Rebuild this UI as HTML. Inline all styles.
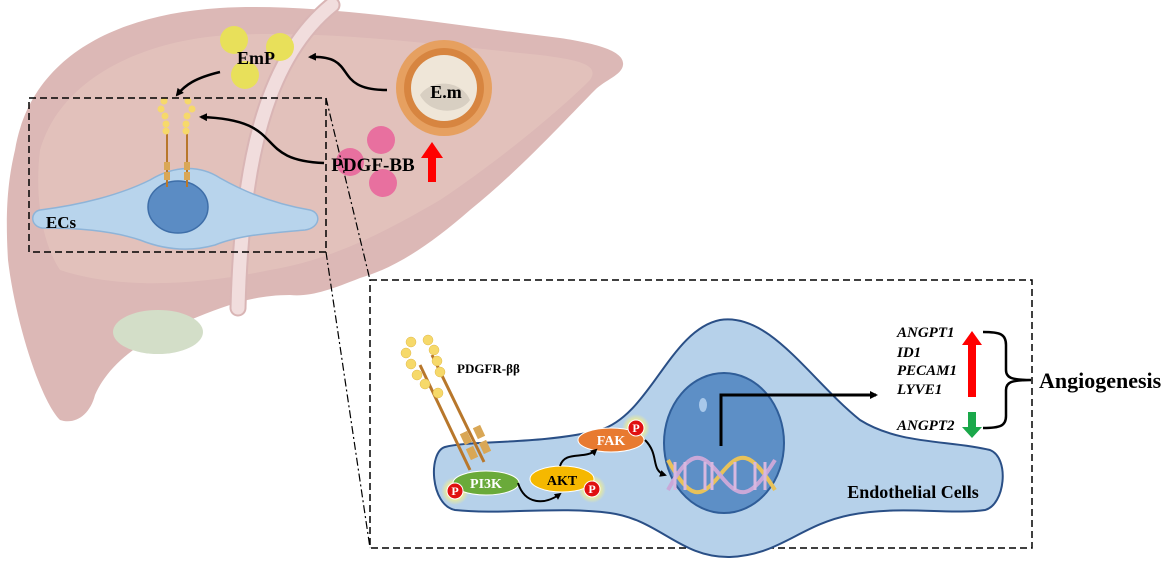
<!DOCTYPE html>
<html><head><meta charset="utf-8"><style>
html,body{margin:0;padding:0;background:#fff}
svg{display:block}
text{font-family:"Liberation Serif",serif;font-weight:bold}
</style></head><body>
<svg width="1169" height="564" viewBox="0 0 1169 564" xmlns="http://www.w3.org/2000/svg">
<defs>
<marker id="ah" markerWidth="8" markerHeight="8" refX="6" refY="4" orient="auto" markerUnits="userSpaceOnUse"><path d="M0,0 L8,4 L0,8 z" fill="#000"/></marker>
<marker id="ahs" markerWidth="7" markerHeight="7" refX="5" refY="3.5" orient="auto" markerUnits="userSpaceOnUse"><path d="M0,0 L7,3.5 L0,7 z" fill="#000"/></marker>
<radialGradient id="glow"><stop offset="0.5" stop-color="#f4f08a"/><stop offset="1" stop-color="#f4f08a" stop-opacity="0"/></radialGradient>
</defs>
<!-- liver -->
<path d="M15,150 C30,60 110,15 220,8 C320,2 450,25 560,38 C600,44 625,52 623,65 C622,75 605,80 595,90 C570,115 520,170 470,210 C430,245 395,268 360,278 C330,290 310,297 290,295 C250,295 220,308 190,320 C150,335 110,360 95,395 C90,415 75,425 60,420 C40,400 15,320 8,260 C5,210 8,180 15,150 Z" fill="#dcb8b6"/>
<path d="M40,150 C60,80 140,40 230,35 C330,30 440,45 540,55 C580,60 600,65 590,80 C560,110 500,160 440,200 C380,235 330,260 270,270 C200,285 120,290 60,270 C40,240 35,190 40,150 Z" fill="#e4c3bd" opacity="0.8"/>
<ellipse cx="158" cy="332" rx="45" ry="22" fill="#d3dec8"/>
<path d="M332,5 C270,55 242,150 238,308" fill="none" stroke="#d9b5b5" stroke-width="17" stroke-linecap="round"/>
<path d="M332,5 C270,55 242,150 238,308" fill="none" stroke="#f1dddd" stroke-width="13" stroke-linecap="round"/>
<!-- EmP -->
<circle cx="234" cy="40" r="14" fill="#e8e05a"/>
<circle cx="280" cy="47" r="14" fill="#e8e05a"/>
<circle cx="245" cy="75" r="14" fill="#e8e05a"/>
<text x="256" y="64" font-size="18" text-anchor="middle">EmP</text>
<!-- E.m -->
<circle cx="444" cy="88" r="48" fill="#e6a060"/>
<circle cx="444" cy="88" r="40" fill="#d78540"/>
<circle cx="444" cy="88" r="33" fill="#efe6d8"/>
<path d="M420,95 C430,80 460,78 470,100 C460,115 430,115 420,95Z" fill="#d8cfc2"/>
<text x="446" y="98" font-size="18" text-anchor="middle">E.m</text>
<!-- PDGF-BB -->
<circle cx="381" cy="140" r="14" fill="#e8709f"/>
<circle cx="350" cy="162" r="14" fill="#e8709f"/>
<circle cx="383" cy="183" r="14" fill="#e8709f"/>
<text x="373" y="171" font-size="19" text-anchor="middle">PDGF-BB</text>
<path d="M428,182 L428,158 L421,158 L432,142 L443,158 L436,158 L436,182 Z" fill="#f00"/>
<!-- arrows -->
<path d="M387,90 C330,90 360,55 310,57" fill="none" stroke="#000" stroke-width="2.5" marker-end="url(#ah)"/>
<path d="M220,72 C195,78 185,85 177,95" fill="none" stroke="#000" stroke-width="2.5" marker-end="url(#ah)"/>
<path d="M324,163 C250,160 290,120 201,117" fill="none" stroke="#000" stroke-width="2.5" marker-end="url(#ah)"/>
<!-- small cell -->
<path d="M40,210 C80,205 120,195 150,180 C175,165 200,165 220,178 C250,195 280,205 310,210 C322,213 320,228 305,230 C270,233 240,235 215,245 C190,252 165,250 140,240 C110,230 75,228 42,228 C30,226 30,212 40,210 Z" fill="#b8d4ec" stroke="#8eb4d8" stroke-width="1.5"/>
<ellipse cx="178" cy="207" rx="30" ry="26" fill="#5b8cc4" stroke="#3e6ea8" stroke-width="1.5"/>
<line x1="167" y1="130" x2="167" y2="187" stroke="#b8772b" stroke-width="2"/>
<line x1="187" y1="130" x2="187" y2="187" stroke="#b8772b" stroke-width="2"/>
<g fill="#f6d96a">
<circle cx="164" cy="101" r="3.5"/><circle cx="161" cy="109" r="3.5"/><circle cx="165" cy="116" r="3.5"/><circle cx="166" cy="124" r="3.5"/><circle cx="166" cy="131" r="3.5"/>
<circle cx="188" cy="101" r="3.5"/><circle cx="192" cy="109" r="3.5"/><circle cx="187" cy="116" r="3.5"/><circle cx="186" cy="124" r="3.5"/><circle cx="186" cy="131" r="3.5"/>
</g>
<rect x="164" y="162" width="6" height="8" fill="#d9a756"/><rect x="164" y="172" width="6" height="8" fill="#d9a756"/>
<rect x="184" y="162" width="6" height="8" fill="#d9a756"/><rect x="184" y="172" width="6" height="8" fill="#d9a756"/>
<text x="61" y="228" font-size="17" text-anchor="middle">ECs</text>
<!-- boxes -->
<rect x="29" y="98" width="297" height="154" fill="none" stroke="#000" stroke-width="1.5" stroke-dasharray="7,4"/>
<path d="M326,98 L370,280 M326,252 L370,548" fill="none" stroke="#000" stroke-width="1.2" stroke-dasharray="8,3,2,3"/>
<rect x="370" y="280" width="662" height="268" fill="none" stroke="#000" stroke-width="1.5" stroke-dasharray="7,4"/>
<!-- big cell -->
<path d="M445,447 C470,440 540,445 600,430 C650,415 670,330 720,320 C770,312 810,380 860,420 C900,445 950,440 990,450 C1010,458 1005,505 985,510 C950,515 900,505 850,515 C800,525 780,555 730,557 C680,558 660,520 610,513 C560,506 500,515 455,510 C430,505 428,452 445,447 Z" fill="#b6d1ea" stroke="#2a4f86" stroke-width="2"/>
<ellipse cx="724" cy="443" rx="60" ry="70" fill="#5d8fc6" stroke="#2f5d98" stroke-width="2"/>
<ellipse cx="703" cy="405" rx="4" ry="7" fill="#a8c8ea"/>
<!-- receptor -->
<line x1="420" y1="365" x2="470" y2="470" stroke="#b8772b" stroke-width="3"/>
<line x1="432" y1="355" x2="484" y2="462" stroke="#b8772b" stroke-width="3"/>
<g fill="#f6d96a" stroke="#e0b84a" stroke-width="0.5">
<circle cx="411" cy="342" r="5"/><circle cx="406" cy="353" r="5"/><circle cx="411" cy="364" r="5"/><circle cx="417" cy="375" r="5"/><circle cx="425" cy="384" r="5"/>
<circle cx="428" cy="340" r="5"/><circle cx="434" cy="350" r="5"/><circle cx="437" cy="361" r="5"/><circle cx="440" cy="372" r="5"/><circle cx="438" cy="393" r="5"/>
</g>
<g fill="#d9a756"><rect x="462" y="432" width="8" height="12" transform="rotate(-25 466 438)"/><rect x="468" y="447" width="8" height="12" transform="rotate(-25 472 453)"/><rect x="475" y="426" width="8" height="12" transform="rotate(-25 479 432)"/><rect x="481" y="441" width="8" height="12" transform="rotate(-25 485 447)"/></g>
<text x="457" y="373" font-size="13">PDGFR-ββ</text>
<!-- signaling -->
<circle cx="455" cy="491" r="14" fill="url(#glow)"/>
<circle cx="592" cy="489" r="14" fill="url(#glow)"/>
<circle cx="636" cy="428" r="14" fill="url(#glow)"/>
<ellipse cx="486" cy="483" rx="33" ry="12" fill="#6aaa3a" stroke="#fff" stroke-width="1"/>
<text x="486" y="488" font-size="14" fill="#fff" text-anchor="middle" font-weight="normal">PI3K</text>
<ellipse cx="562" cy="479" rx="32" ry="13" fill="#f5b800" stroke="#fff" stroke-width="1"/>
<text x="562" y="485" font-size="14" text-anchor="middle" font-weight="normal">AKT</text>
<ellipse cx="611" cy="440" rx="33" ry="12" fill="#e87a30" stroke="#fff" stroke-width="1"/>
<text x="611" y="445" font-size="14" fill="#fff" text-anchor="middle" font-weight="normal">FAK</text>
<g font-size="12" text-anchor="middle" fill="#fff">
<circle cx="455" cy="491" r="8" fill="#e01010" stroke="#fff"/><text x="455" y="495" fill="#fff">P</text>
<circle cx="592" cy="489" r="8" fill="#e01010" stroke="#fff"/><text x="592" y="493" fill="#fff">P</text>
<circle cx="636" cy="428" r="8" fill="#e01010" stroke="#fff"/><text x="636" y="432" fill="#fff">P</text>
</g>
<path d="M518,483 C525,505 545,505 560,494" fill="none" stroke="#000" stroke-width="2" marker-end="url(#ahs)"/>
<path d="M560,466 C565,450 585,460 596,450" fill="none" stroke="#000" stroke-width="2" marker-end="url(#ahs)"/>
<path d="M645,440 C660,455 650,470 665,475" fill="none" stroke="#000" stroke-width="2" marker-end="url(#ahs)"/>
<!-- DNA -->
<path d="M668,460 C690,500 700,500 720,475 C740,450 750,450 775,490" fill="none" stroke="#e8c25a" stroke-width="4"/>
<path d="M668,490 C690,450 700,450 720,475 C740,500 750,500 775,460" fill="none" stroke="#c9a8d8" stroke-width="4"/>
<g stroke="#d8b8e0" stroke-width="3"><line x1="675" y1="462" x2="675" y2="490"/><line x1="685" y1="462" x2="685" y2="490"/><line x1="705" y1="462" x2="705" y2="490"/><line x1="712" y1="462" x2="712" y2="490"/><line x1="735" y1="462" x2="735" y2="490"/><line x1="755" y1="462" x2="755" y2="490"/><line x1="765" y1="462" x2="765" y2="490"/></g>
<path d="M721,446 L721,395 L876,395" fill="none" stroke="#000" stroke-width="3" marker-end="url(#ah)"/>
<text x="913" y="498" font-size="18" text-anchor="middle">Endothelial Cells</text>
<!-- genes -->
<g font-size="15" font-style="italic">
<text x="897" y="337">ANGPT1</text><text x="897" y="357">ID1</text><text x="897" y="375">PECAM1</text><text x="897" y="394">LYVE1</text><text x="897" y="430">ANGPT2</text>
</g>
<path d="M968,397 L968,345 L962,345 L972,331 L982,345 L976,345 L976,397 Z" fill="#f00"/>
<path d="M968,412 L976,412 L976,427 L982,427 L972,438 L962,427 L968,427 Z" fill="#1aa84a"/>
<path d="M983,332 C1000,332 1006,334 1006,345 L1006,370 C1006,378 1012,380 1031,380 C1012,380 1006,382 1006,390 L1006,416 C1006,426 1000,428 983,428" fill="none" stroke="#000" stroke-width="2.5"/>
<text x="1039" y="388" font-size="22">Angiogenesis</text>
</svg>
</body></html>
